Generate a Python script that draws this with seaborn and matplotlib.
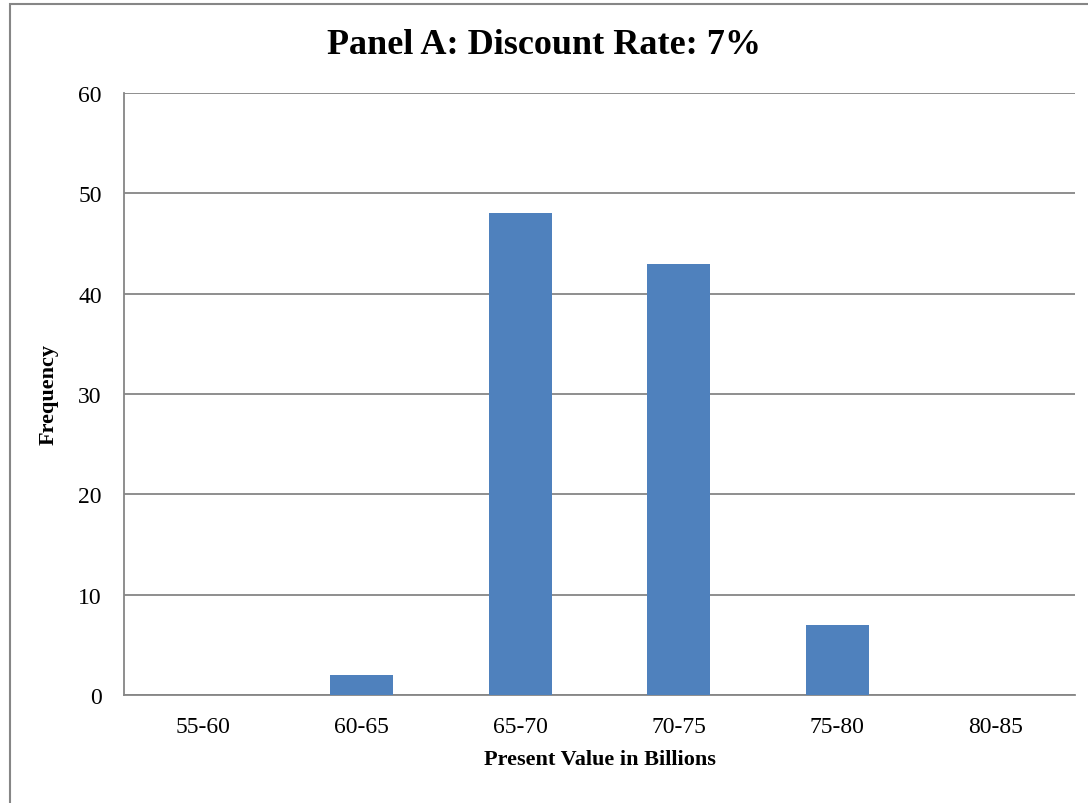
import matplotlib
matplotlib.use("Agg")
import matplotlib.pyplot as plt
import seaborn as sns
import pandas as pd
import numpy as np
from matplotlib.patches import Rectangle

# data
bins = ["55-60", "60-65", "65-70", "70-75", "75-80", "80-85"]
freq = [0, 2, 48, 43, 7, 0]

sns.set_style("white")
plt.rcParams['font.family'] = ['Liberation Serif', 'DejaVu Serif']
plt.rcParams['text.color'] = 'black'
plt.rcParams['xtick.color'] = 'black'
plt.rcParams['ytick.color'] = 'black'
plt.rcParams['axes.labelcolor'] = 'black'

df = pd.DataFrame({"bin": bins, "freq": freq})

fig = plt.figure(figsize=(10.88, 8.04), dpi=100)
ax = fig.add_axes([124 / 1088, 1 - 696 / 804, (1075 - 124) / 1088, (696 - 94) / 804])

grid_c = "#868686"
sns.barplot(data=df, x="bin", y="freq", color="#4F81BD", saturation=1,
            width=0.4, linewidth=0, ax=ax, zorder=3)

ax.set_ylim(0, 60)
ax.set_xlim(-0.5, len(bins) - 0.5)
ax.set_yticks(range(0, 61, 10))
ax.yaxis.grid(True, color=grid_c, linewidth=1.3, zorder=0)
ax.set_axisbelow(True)

for s in ["top", "right"]:
    ax.spines[s].set_visible(False)
for s in ["left", "bottom"]:
    ax.spines[s].set_color(grid_c)
    ax.spines[s].set_linewidth(1.3)

ax.tick_params(axis="x", which="major", length=0, pad=15, labelsize=17)
ax.set_xticks(np.arange(-0.5, len(bins), 1.0), minor=True)
ax.tick_params(axis="x", which="minor", length=6, color=grid_c, width=1.3, direction="out")
ax.tick_params(axis="y", length=6, color=grid_c, width=1.3, direction="out", labelsize=17, pad=10)

ax.set_xlabel("Present Value in Billions", fontsize=16, fontweight="bold", labelpad=9)
ax.set_ylabel("Frequency", fontsize=16, fontweight="bold", labelpad=14)
fig.text(0.5, 1 - 45 / 804, "Panel A: Discount Rate: 7%", ha="center", va="center",
         fontsize=26, fontweight="bold")

# chart border like the spreadsheet frame
fig.patches.append(Rectangle((10 / 1088, -0.1), 1.2, 1.1 - 5 / 804,
                             transform=fig.transFigure, fill=False,
                             edgecolor=grid_c, linewidth=1.5))

fig.savefig("out.png", dpi=100)
